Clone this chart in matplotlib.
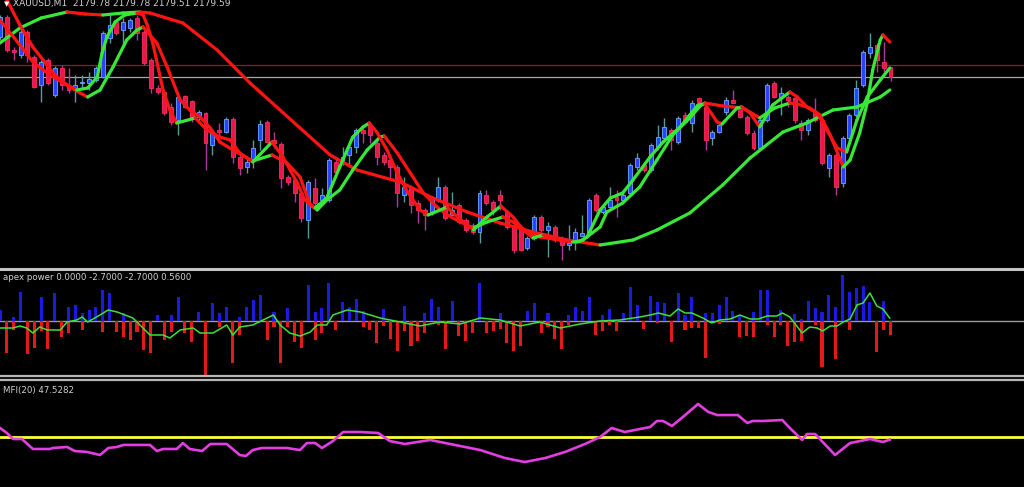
import matplotlib
matplotlib.use("Agg")
import matplotlib.pyplot as plt
from matplotlib.collections import LineCollection
from matplotlib.lines import Line2D

# ---------------- data ----------------
symbol = "XAUUSD,M1"
opens = [2180.39,2180.79,2180.13,2180.03,2180.49,2179.99,2179.43,2179.93,2179.23,2179.77,
         2179.43,2179.33,2179.47,2179.47,2179.53,2179.59,2180.37,2180.69,2180.53,2180.57,
         2180.77,2180.49,2179.93,2179.37,2179.29,2178.99,2178.73,2179.21,2179.11,2178.79,
         2178.87,2178.23,2178.53,2178.49,2178.75,2177.99,2177.79,2177.93,2178.33,2178.69,
         2178.33,2178.25,2177.59,2177.53,2177.27,2176.73,2177.37,2177.13,2177.13,2177.89,
         2177.87,2178.03,2178.19,2178.53,2178.63,2178.27,2178.03,2177.93,2177.79,2177.23,
         2177.37,2177.07,2176.93,2176.87,2177.13,2177.39,2176.83,2177.03,2176.73,2176.63,
         2176.49,2177.23,2177.09,2177.23,2176.89,2176.63,2176.59,2176.17,2176.37,2176.79,
         2176.53,2176.59,2176.37,2176.23,2176.33,2176.41,2176.49,2177.23,2176.89,2176.99,
         2177.19,2177.13,2177.27,2177.79,2177.83,2177.73,2178.19,2178.37,2178.53,2178.29,
         2178.83,2178.67,2179.17,2178.99,2178.37,2178.49,2178.89,2179.13,2178.97,2178.79,
         2178.47,2178.17,2178.73,2179.47,2179.19,2179.19,2179.17,2178.67,2178.53,2178.87,
         2178.73,2177.77,2178.03,2177.47,2178.37,2178.83,2179.43,2180.07,2180.23,2179.89,
         2179.78]
highs = [2180.83,2180.83,2180.19,2180.57,2180.53,2180.03,2179.93,2179.97,2179.81,2179.83,
         2179.77,2179.63,2179.63,2179.69,2179.81,2180.51,2180.83,2180.73,2180.77,2180.77,
         2180.83,2180.53,2179.97,2179.43,2179.33,2179.07,2179.23,2179.23,2179.13,2178.93,
         2178.89,2178.53,2178.67,2178.79,2178.79,2178.03,2177.97,2178.33,2178.73,2178.73,
         2178.49,2178.29,2177.63,2177.57,2177.29,2177.53,2177.57,2177.37,2177.97,2177.97,
         2178.19,2178.27,2178.57,2178.57,2178.69,2178.33,2178.09,2177.99,2177.83,2177.59,
         2177.43,2177.13,2176.97,2177.19,2177.59,2177.43,2177.29,2177.07,2176.77,2176.67,
         2177.33,2177.33,2177.13,2177.33,2176.93,2176.67,2176.63,2176.41,2176.83,2176.83,
         2176.69,2176.63,2176.41,2176.63,2176.57,2176.83,2177.17,2177.27,2177.03,2177.39,
         2177.33,2177.29,2177.87,2178.07,2177.89,2178.27,2178.63,2178.77,2178.57,2178.81,
         2178.89,2179.13,2179.19,2179.03,2178.53,2178.67,2179.19,2179.33,2179.03,2178.83,
         2178.53,2178.77,2179.47,2179.51,2179.39,2179.23,2179.21,2178.73,2178.77,2179.17,
         2178.77,2178.07,2178.07,2178.41,2178.87,2179.53,2180.13,2180.47,2180.27,2180.29,
         2179.78]
lows = [2180.33,2180.09,2179.93,2179.97,2179.89,2179.37,2179.09,2179.43,2179.19,2179.33,
        2179.27,2179.09,2179.37,2179.33,2179.49,2179.57,2180.27,2180.43,2180.23,2180.49,
        2180.33,2179.83,2179.27,2179.25,2178.83,2178.63,2178.43,2178.97,2178.69,2178.67,
        2177.73,2178.03,2178.43,2178.47,2177.87,2177.63,2177.67,2177.77,2178.13,2178.27,
        2178.17,2177.37,2177.43,2177.09,2176.69,2176.37,2176.93,2177.09,2177.09,2177.67,
        2177.83,2177.79,2178.07,2178.27,2178.27,2177.83,2177.83,2177.57,2176.99,2177.09,
        2176.87,2176.67,2176.53,2176.83,2177.09,2176.73,2176.83,2176.65,2176.49,2176.45,
        2176.27,2177.03,2176.83,2176.93,2176.55,2176.07,2176.11,2176.13,2176.33,2176.49,
        2175.99,2176.29,2175.93,2176.13,2176.13,2176.41,2176.45,2176.89,2176.85,2176.97,
        2176.79,2177.07,2177.23,2177.73,2177.69,2177.69,2178.13,2178.33,2178.13,2178.25,
        2178.67,2178.49,2179.03,2178.13,2178.23,2178.47,2178.83,2179.07,2178.77,2178.43,
        2178.13,2178.13,2178.69,2179.17,2178.83,2178.99,2178.67,2178.33,2178.43,2178.69,
        2177.83,2177.59,2177.23,2177.39,2178.33,2178.79,2179.39,2179.97,2179.69,2179.69,
        2179.51]
closes = [2180.79,2180.13,2180.09,2180.49,2180.03,2179.39,2179.89,2179.47,2179.77,2179.43,
          2179.33,2179.43,2179.49,2179.55,2179.77,2180.47,2180.63,2180.47,2180.69,2180.73,
          2180.47,2179.87,2179.37,2179.29,2178.87,2178.69,2179.19,2178.99,2178.77,2178.89,
          2178.27,2178.49,2178.49,2178.75,2177.99,2177.77,2177.89,2178.17,2178.65,2178.29,
          2178.27,2177.57,2177.49,2177.27,2176.77,2177.49,2177.07,2177.23,2177.93,2177.69,
          2177.99,2178.19,2178.53,2178.47,2178.43,2177.99,2177.89,2177.79,2177.27,2177.39,
          2177.03,2176.93,2176.83,2177.19,2177.39,2176.77,2176.93,2176.69,2176.53,2176.49,
          2177.27,2177.07,2176.93,2177.13,2176.59,2176.13,2176.13,2176.37,2176.79,2176.53,
          2176.61,2176.33,2176.23,2176.27,2176.49,2176.47,2177.13,2176.93,2176.99,2177.13,
          2177.13,2177.23,2177.83,2177.97,2177.73,2178.23,2178.39,2178.59,2178.33,2178.77,
          2178.69,2179.07,2179.09,2178.33,2178.49,2178.63,2179.13,2179.07,2178.79,2178.47,
          2178.17,2178.73,2179.43,2179.19,2179.27,2179.13,2178.73,2178.53,2178.73,2178.73,
          2177.87,2178.03,2177.39,2178.37,2178.83,2179.37,2180.09,2180.19,2179.93,2179.77,
          2179.59]
ask_price = 2179.83

# moving averages (knots: bar index, price)
fast_idx = [0,2.9,4.8,7.3,9.8,11.2,12.8,14.2,14.9,15.6,16.8,18.2,20.0,20.9,21.5,22.3,23.8,24.8,25.8,28.5,
            30.2,32.1,33.6,35.0,36.9,39.7,41.3,43.4,44.5,46.0,47.7,49.6,51.5,53.0,53.9,55.0,56.5,58.0,59.6,61.3,
            62.5,63.2,65.3,66.1,69.1,71.1,73.1,74.9,76.4,77.8,79.3,81.8,83.6,84.7,85.7,87.6,89.1,90.9,92.4,94.9,
            96.8,99.3,100.7,101.9,102.9,104.7,105.4,107.6,108.3,109.5,110.9,112.8,115.3,116.4,117.8,119.7,121.2,123.1,124.1,125.5,
            126.6,127.4,128.5,128.9,129.9]
fast_val = [2180.73,2180.23,2179.89,2179.63,2179.43,2179.33,2179.37,2179.59,2180.07,2180.39,2180.69,2180.83,2180.87,2180.83,2180.63,2180.27,2179.33,2178.93,2178.67,2178.77,
            2178.53,2178.39,2178.33,2178.07,2177.89,2178.29,2177.99,2177.47,2177.13,2176.97,2177.17,2177.79,2178.39,2178.59,2178.67,2178.49,2178.13,2177.67,2177.27,2176.93,
            2176.83,2176.87,2176.99,2176.87,2176.53,2176.79,2177.01,2176.79,2176.53,2176.37,2176.43,2176.33,2176.29,2176.31,2176.39,2176.93,2177.17,2177.27,2177.53,2177.99,
            2178.29,2178.59,2178.83,2179.03,2179.05,2178.69,2178.65,2178.97,2178.99,2178.87,2178.59,2179.03,2179.29,2179.19,2178.99,2178.83,2178.43,2177.79,2177.93,2178.47,
            2179.07,2179.73,2180.33,2180.43,2180.29]
mid_idx = [1.0,2.9,4.8,6.3,8.0,9.8,11.7,12.8,14.6,16.5,18.5,20.0,20.9,22.9,24.4,26.3,27.7,29.2,30.7,32.1,
           34.0,36.1,36.9,39.7,41.9,43.8,45.3,46.3,47.7,49.6,51.5,53.6,55.5,56.1,58.0,59.9,61.8,63.8,65.3,67.2,
           69.1,71.1,73.4,74.9,76.9,78.8,81.8,84.2,85.1,87.6,88.6,90.9,93.4,95.9,98.2,100.7,102.2,102.9,105.5,108.5,
           110.9,113.1,115.3,116.4,118.2,119.3,120.7,122.2,123.6,125.1,126.6,128.5,129.9]
mid_val = [2181.13,2180.63,2180.19,2179.93,2179.63,2179.43,2179.27,2179.19,2179.33,2179.79,2180.33,2180.53,2180.59,2180.27,2179.79,2179.13,2178.93,2178.79,2178.57,2178.29,
           2178.13,2177.97,2177.91,2178.03,2177.87,2177.59,2177.03,2176.93,2177.13,2177.33,2177.73,2178.13,2178.39,2178.41,2178.07,2177.67,2177.27,2176.99,2176.83,2176.69,
           2176.57,2176.69,2176.79,2176.69,2176.49,2176.39,2176.33,2176.29,2176.33,2176.59,2176.89,2177.07,2177.39,2177.93,2178.43,2178.77,2179.01,2179.07,2179.01,2178.97,
           2178.77,2178.97,2179.07,2179.05,2178.97,2178.87,2178.53,2178.17,2178.09,2178.73,2179.19,2179.53,2179.77]
slow_idx = [0,2.9,6.0,9.8,12.4,15.0,18.0,20.4,21.9,26.7,31.7,36.5,43.8,48.2,52.1,58.4,63.2,68.2,73.0,77.8,
            82.8,87.6,92.4,95.9,100.7,105.5,109.5,114.3,117.8,121.6,125.1,128.5,129.9]
slow_val = [2180.27,2180.57,2180.77,2180.89,2180.85,2180.83,2180.87,2180.89,2180.87,2180.67,2180.13,2179.47,2178.57,2178.03,2177.73,2177.49,2177.17,2176.89,2176.67,2176.49,
            2176.33,2176.23,2176.33,2176.53,2176.87,2177.43,2177.97,2178.49,2178.67,2178.93,2178.99,2179.19,2179.33]

# apex power histogram (per bar) and signal line
apex_bull = [2.2,0,0.8,5.8,0,0,4.8,0,5.6,0, 2.8,3.2,1.6,2.2,2.8,6.2,5.6,0,1.6,0,
             0,0,0,1.2,0,1.2,4.8,0,0,1.8, 0,3.6,1.6,2.8,0,0.8,2.8,4.2,5.2,0,
             1.8,0,2.6,0,0,7.2,1.8,2.6,7.6,0, 3.8,2.8,4.4,2.0,0,0,2.4,0,0,3.0,
             0,0,1.6,4.4,2.8,0,4.0,0,0,0, 7.6,0,0,1.6,0,0,0,2.0,3.6,0,
             1.6,0,0,1.2,2.8,2.0,4.8,0,1.2,2.4, 0,1.6,6.8,3.2,0,5.0,3.8,3.6,0,5.6,
             1.2,4.8,0,1.6,1.6,3.2,4.8,2.0,1.2,0, 1.8,6.2,6.2,0,2.2,0,1.4,0.4,4.0,2.6,
             1.8,5.2,2.8,9.2,5.8,6.6,7.0,3.8,0,4.0, 0]
apex_bear = [0,-6.4,-1.8,0,-6.6,-5.4,-2.0,-5.6,0,-3.2, -2.4,0,-1.8,0,0,-2.2,0,-2.2,-3.2,-3.8,
             -2.2,-5.8,-6.4,0,-3.8,-2.2,0,-2.4,-4.2,0, -10.8,0,-1.2,0,-8.4,-2.8,0,0,0,-3.8,
             -1.2,-8.4,-1.2,-4.2,-5.4,0,-3.8,-2.4,0,-1.8, 0,0,0,-1.2,-1.8,-4.4,-1.0,-3.6,-6.0,-2.0,
             -5.0,-4.0,-2.4,0,-0.8,-5.6,0,-3.0,-4.0,-2.4, 0,-2.4,-2.0,-1.6,-4.4,-6.0,-5.0,0,0,-2.4,
             -1.2,-3.6,-5.6,-0.8,0,0,0,-2.8,-2.0,-0.8, -2.0,0,0,0,-1.6,0,-0.4,0,-4.2,0,
             -1.8,-1.4,-1.4,-7.4,0,-0.6,0,0,-3.2,-3.0, -3.2,0,-0.8,-3.2,-0.8,-5.0,-4.2,-4.0,0,-0.8,
             -9.2,0,-7.6,0,-1.8,0,0,0,-6.2,-1.8, -2.7]
apex_sig_idx = [0,1.9,2.9,3.9,4.8,5.8,6.9,8.8,9.8,11.2,12.0,12.8,14.6,15.8,17.1,19.4,21.9,23.8,24.8,26.3,
                28.2,29.2,31.1,33.1,34.0,35.0,36.9,39.0,39.9,40.9,42.3,43.8,45.3,46.3,47.7,48.6,50.7,52.6,55.5,58.4,
                61.3,64.2,67.2,70.1,73.0,75.9,78.8,81.8,84.7,87.6,90.5,93.4,94.9,96.1,97.8,99.0,100.0,101.0,102.6,103.9,
                105.1,106.6,108.0,109.5,110.7,112.0,113.4,114.2,115.3,117.1,118.2,119.3,120.1,121.2,122.2,123.1,124.1,125.1,126.0,127.0,
                128.0,128.9,129.9]
apex_sig_val = [-1.4,-1.4,-1.0,-1.4,-2.4,-1.2,-1.8,-1.8,-0.2,0.2,0.8,-0.2,1.2,2.2,1.8,0.6,-2.8,-2.8,-3.4,-1.8,
                -1.4,-2.4,-2.4,-0.8,-2.8,-1.2,-0.8,0.6,1.2,-0.8,-2.4,-3.0,-2.2,-0.8,-0.8,1.2,2.2,1.8,0.6,-0.2,
                -1.0,-0.2,-0.6,0.6,0.2,-1.0,-0.2,-1.4,-0.6,0.0,0.2,0.8,1.2,1.6,1.0,2.4,1.6,1.6,0.6,-0.4,
                0.2,0.4,1.2,0.4,0.4,1.0,1.0,1.6,0.8,-2.4,-1.2,-1.4,-2.0,-1.0,-1.0,-0.2,0.4,3.2,3.6,5.6,
                3.0,2.4,0.56]

# MFI(20)
mfi_idx = [0,1.0,1.9,3.2,4.8,7.3,7.7,9.8,10.9,12.7,14.6,15.8,17.1,18.0,21.9,22.9,23.8,25.8,26.7,27.7,
           29.5,30.7,33.1,35.0,35.9,36.9,38.2,41.9,43.8,44.8,46.0,47.0,48.6,50.1,51.1,52.6,55.2,56.9,59.1,62.8,
           65.7,70.1,73.7,76.6,79.6,82.5,85.4,87.6,89.3,91.2,93.4,94.9,95.9,96.8,98.1,99.7,101.9,103.4,104.7,107.7,
           109.1,109.9,111.4,114.2,115.3,117.1,117.8,119.0,120.1,121.9,124.1,127.0,128.9,129.9]
mfi_val = [58.5,53.8,48.1,48.1,38.7,38.7,39.6,40.6,36.8,35.9,33.0,39.6,40.6,42.5,42.5,36.8,38.7,38.7,44.3,38.7,
           36.8,43.4,43.4,33.0,32.1,37.7,39.6,39.6,37.7,44.3,44.3,39.6,46.2,54.7,54.7,54.7,53.8,46.2,43.4,47.2,
           43.4,37.7,30.2,26.4,30.2,35.9,43.4,50.0,58.5,54.7,57.5,59.4,65.1,65.1,60.4,68.9,81.1,73.6,70.7,70.7,
           63.2,65.1,65.1,66.0,58.5,47.2,52.8,52.8,45.3,33.0,44.3,48.1,45.3,47.5282]
mfi_level = 50

# ---------------- style ----------------
BG = "black"
UP_GREEN = "#38e838"
DN_RED = "#ff1414"
BULL_FILL, BULL_EDGE, BULL_WICK = "#2844ff", "#6aa8ff", "#5a9a98"
BEAR_FILL, BEAR_EDGE, BEAR_WICK = "#e8174c", "#ff2d5c", "#b03a9c"
TXT = "#d2d2d2"

W, H = 1024, 487
fig = plt.figure(figsize=(W / 100, H / 100), dpi=100, facecolor=BG)


def add_ax(top_px, bot_px):
    ax = fig.add_axes([0, 1 - bot_px / H, 1, (bot_px - top_px) / H])
    ax.set_facecolor(BG)
    ax.set_axis_off()
    ax.set_xlim(0, W / 6.85)
    return ax


ax_main = add_ax(0, 266)
ax_apex = add_ax(271, 375)
ax_mfi = add_ax(381, 487)

# ---- main candles ----
n = len(closes)
xs = list(range(n))
for i in xs:
    o, h, l, c = opens[i], highs[i], lows[i], closes[i]
    bull = c >= o
    ax_main.plot([i, i], [l, h], color=BULL_WICK if bull else BEAR_WICK, lw=1.0, zorder=2,
                 solid_capstyle="butt")
    bot = min(o, c)
    hgt = max(abs(c - o), 0.02)
    ax_main.bar(i, hgt, bottom=bot, width=0.58,
                color=BULL_FILL if bull else BEAR_FILL,
                edgecolor=BULL_EDGE if bull else BEAR_EDGE, linewidth=0.6, zorder=3)


def trend_line(ax, ix, vals, lw, z):
    segs, cols = [], []
    for k in range(len(ix) - 1):
        segs.append([(ix[k], vals[k]), (ix[k + 1], vals[k + 1])])
        cols.append(UP_GREEN if vals[k + 1] >= vals[k] else DN_RED)
    lc = LineCollection(segs, colors=cols, linewidths=lw, capstyle="round",
                        joinstyle="round", zorder=z)
    ax.add_collection(lc)


trend_line(ax_main, slow_idx, slow_val, 2.3, 5)
trend_line(ax_main, mid_idx, mid_val, 2.3, 6)
trend_line(ax_main, fast_idx, fast_val, 2.3, 7)

ax_main.axhline(ask_price, color="#a31515", lw=0.9, zorder=1)
ax_main.axhline(closes[-1], color="#a8a8a8", lw=0.9, zorder=1)
ax_main.set_ylim(2175.81, 2181.13)

fig.text(4 / W, 1 - 1 / H, "\u25BC", color="white", fontsize=5, va="top", ha="left")
header = f"{symbol}  {opens[-1]:.2f} {highs[-1]:.2f} {lows[-1]:.2f} {closes[-1]:.2f}"
fig.text(13 / W, 1 + 1 / H, header, color=TXT, fontsize=6.5, va="top", ha="left",
         family="DejaVu Sans")

# ---- apex power ----
ax_apex.bar(xs, apex_bull, width=0.45, color="#1a1ae0", zorder=2)
ax_apex.bar(xs, apex_bear, width=0.45, color="#e41a1a", zorder=2)
ax_apex.axhline(0, color="#9a9a9a", lw=1.0, zorder=1)
ax_apex.plot(apex_sig_idx, apex_sig_val, color="#3ee03a", lw=1.1, zorder=4)
ax_apex.set_ylim(-10.8, 10.0)
fig.text(3 / W, 1 - 277 / H, f"apex power 0.0000 {apex_bear[-1]:.4f} {apex_bear[-1]:.4f} {apex_sig_val[-1]:.4f}",
         color=TXT, fontsize=6.2, va="center", ha="left")

# ---- MFI ----
ax_mfi.axhline(mfi_level, color="#ffff3a", lw=2.0, zorder=1)
ax_mfi.plot(mfi_idx, mfi_val, color="#e23ee2", lw=1.9, zorder=2)
ax_mfi.set_ylim(2.85, 102.8)
fig.text(3 / W, 1 - 390 / H, f"MFI(20) {mfi_val[-1]:.4f}", color=TXT, fontsize=6.2,
         va="center", ha="left")

# ---- separators ----
for ypx, col, lw in [(268.5, "#c4c4c4", 2.2), (375.5, "#b8b8b8", 1.6), (379.5, "#b8b8b8", 1.6)]:
    fig.add_artist(Line2D([0, 1], [1 - ypx / H, 1 - ypx / H], color=col, lw=lw,
                          transform=fig.transFigure))

fig.savefig("out.png", dpi=100, facecolor=BG)
